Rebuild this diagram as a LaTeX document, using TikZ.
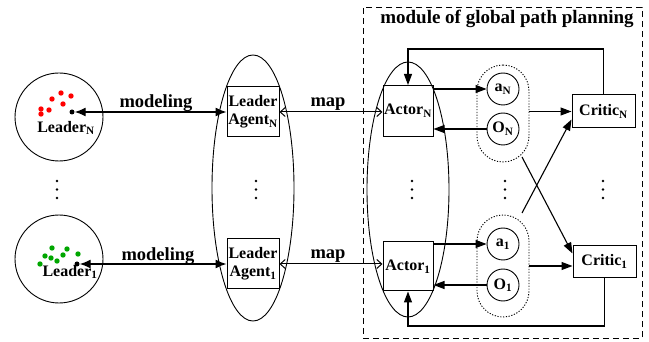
\documentclass[tikz,border=0pt]{standalone}
\usepackage{fontspec}
\setmainfont{Liberation Serif}
\usetikzlibrary{arrows.meta,shapes.geometric}
\begin{document}
\begin{tikzpicture}[x=1pt,y=-1pt,
  lab/.style={font=\bfseries\fontsize{16}{18}\selectfont},
  big/.style={font=\bfseries\fontsize{18.5}{20}\selectfont},
  box/.style={draw,line width=1pt,inner sep=0pt,align=center,lab},
  circ/.style={draw,circle,line width=0.9pt,minimum size=32pt,inner sep=0pt,lab},
  dotbox/.style={draw,dash pattern=on 1.2pt off 1.6pt,line width=0.9pt,rounded corners=26pt,minimum width=52pt,inner sep=0pt},
  ell/.style={draw,ellipse,line width=0.9pt,inner sep=0pt},
  arr/.style={-{Triangle[length=11pt,width=8pt]},line width=1.1pt},
  dbl/.style={{Latex[length=11pt,width=9pt]}-{Latex[length=11pt,width=9pt]},line width=1.3pt},
  maparr/.style={{Straight Barb[length=5pt,width=9pt]}-{Straight Barb[length=5pt,width=9pt]},line width=1pt},
  blk/.style={circle,fill=black,inner sep=0pt,minimum size=5pt},
]
\useasboundingbox (0,0) rectangle (649,342);

% dashed module frame
\node[draw,dash pattern=on 6pt off 4pt,line width=0.9pt,minimum width=279pt,minimum height=331pt,inner sep=0pt] (frame) at (502.5,172.5) {};
\node[font=\bfseries\fontsize{19}{21}\selectfont] (title) at (507,19) {module of global path planning};

% leaders
\node[draw,circle,line width=0.9pt,minimum size=88pt,inner sep=0pt] (LcN) at (59,117) {};
\node[draw,circle,line width=0.9pt,minimum size=88pt,inner sep=0pt] (Lc1) at (59,259) {};
\foreach \p in {(61,93),(71,96),(52,99),(63,104),(41,109),(49,110),(41,114)} \fill[red] \p circle (2.7);
\foreach \p in {(52,248),(67,249),(45,256),(63,255),(78,254),(51,258),(57,261),(40,264)} \fill[green!65!black] \p circle (2.7);
\node[blk] (dN) at (72,112) {};
\node[blk] (d1) at (77,264) {};
\node[lab] (LlN) at (66,128) {Leader\textsubscript{N}};
\node[lab] (Ll1) at (70,272) {Leader\textsubscript{1}};

% leader agents
\node[ell,minimum width=82pt,minimum height=266pt] (AE) at (253,188) {};
\node[box,minimum width=52pt,minimum height=50pt] (AgN) at (253,112) {Leader\\Agent\textsubscript{N}};
\node[box,minimum width=52pt,minimum height=50pt] (Ag1) at (253,264) {Leader\\Agent\textsubscript{1}};

\draw[dbl] (dN) -- (AgN.west);
\draw[dbl] (d1) -- (Ag1.west);
\node[big] (mN) at (156,103) {modeling};
\node[big] (m1) at (158,256) {modeling};

% actors
\node[ell,minimum width=82pt,minimum height=255pt] (ActE) at (408,189.5) {};
\node[box,minimum width=50pt,minimum height=51pt] (AcN) at (408,111) {Actor\textsubscript{N}};
\node[box,minimum width=50pt,minimum height=49pt] (Ac1) at (408,266.5) {Actor\textsubscript{1}};

\draw[maparr] (AgN.east) -- (AgN.east -| AcN.west);
\draw[maparr] (Ag1.east) -- (Ag1.east -| Ac1.west);
\node[big] (pN) at (328,104) {map};
\node[big] (p1) at (328,256.5) {map};

% observation/action groups
\node[dotbox,minimum height=97pt] (DN) at (503,113.5) {};
\node[dotbox,minimum height=102pt] (D1) at (503,266) {};
\node[circ] (aN) at (503,89) {a\textsubscript{N}};
\node[circ] (ON) at (503,129) {O\textsubscript{N}};
\node[circ] (a1) at (503,244) {a\textsubscript{1}};
\node[circ] (O1) at (503,285) {O\textsubscript{1}};

% critics
\node[box,minimum width=63pt,minimum height=33pt] (CN) at (603.5,111.5) {Critic\textsubscript{N}};
\node[box,minimum width=63pt,minimum height=32pt] (C1) at (604.5,261.5) {Critic\textsubscript{1}};

\draw[arr] (AcN.east |- aN) -- (aN.west);
\draw[arr] (ON.west) -- (AcN.east |- ON);
\draw[arr] (Ac1.east |- a1) -- (a1.west);
\draw[arr] (O1.west) -- (Ac1.east |- O1);
\draw[arr] (DN.east |- CN) -- (CN.west);
\draw[arr] (D1.east) -- (D1.east -| C1.west);

\coordinate (fbN) at (505,49);
\coordinate (fb1) at (505,326);
\draw[arr] (CN.north) |- (fbN) -| (AcN.north);
\draw[arr] (C1.south) |- (fb1) -| (Ac1.south);

\coordinate (xN) at (522,157);
\coordinate (x1) at (522,213);
\draw[arr] (xN) -- ([yshift=8pt]C1.west);
\draw[arr] (x1) -- ([yshift=-8pt]CN.west);

% vertical ellipses
\foreach \x in {57,256,412,505,603} {
  \foreach \y in {181,189.5,198} \fill (\x,\y) circle (1.4);
}
\end{tikzpicture}
\end{document}
